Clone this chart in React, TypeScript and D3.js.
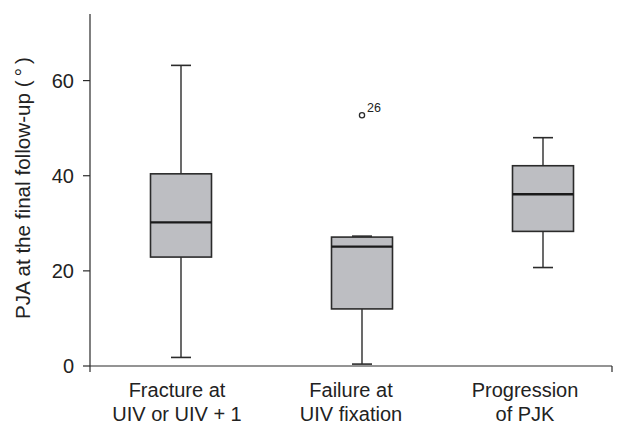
import React from "react";
import * as d3 from "d3";

const categories = ["Fracture at|UIV or UIV + 1", "Failure at|UIV fixation", "Progression|of PJK"];
const whiskerLow = [1.8, 0.4, 20.7];
const q1 = [22.9, 12.0, 28.3];
const median = [30.2, 25.1, 36.1];
const q3 = [40.4, 27.1, 42.1];
const whiskerHigh = [63.2, 27.3, 48.0];
const outliers = [{ group: 1, value: 52.7, label: "26" }];
const yTicks = [0, 20, 40, 60];

const W = 634;
const H = 424;
const left = 90;
const right = 612;
const top = 14;
const bottom = 366;

const App = () => {
    const y = d3.scaleLinear().domain([0, 74]).range([bottom, top]);
    // labels sit in equal bands along the axis
    const xLabel = d3.scaleBand().domain(categories).range([left, right]);
    // boxes are a little further right than the labels in the original
    const xBox = d3.scalePoint().domain(categories).range([181, 543]);
    const boxW = 61;
    const capW = 20;
    const ink = "#2b2b2b";
    const font = "'Liberation Sans', Arial, sans-serif";

    return (
        <svg width={W} height={H} style={{ position: "absolute", left: 0, top: 0, background: "#fff" }}>
            {/* y axis */}
            <line x1={left} x2={left} y1={top} y2={bottom + 6} stroke={ink} strokeWidth={1.2} />
            {yTicks.map((t) => (
                <g key={t}>
                    <line x1={left - 7} x2={left} y1={y(t)} y2={y(t)} stroke={ink} strokeWidth={1.2} />
                    <text x={left - 16} y={y(t)} textAnchor="end" dominantBaseline="central" fontSize="20px" fontFamily={font} fill="#222">
                        {t}
                    </text>
                </g>
            ))}
            <text
                transform={`translate(${30},${188}) rotate(-90)`}
                textAnchor="middle"
                fontSize="21px"
                fontFamily={font}
                fill="#222"
                textLength={262}
                lengthAdjust="spacingAndGlyphs"
            >
                PJA at the final follow-up (&#8201;°&#8201;)
            </text>

            {/* x axis */}
            <line x1={left} x2={right} y1={bottom} y2={bottom} stroke={ink} strokeWidth={1.2} />
            <line x1={right} x2={right} y1={bottom} y2={bottom + 6} stroke={ink} strokeWidth={1.2} />
            {categories.map((c) => {
                const [a, b] = c.split("|");
                const cx = xLabel(c)! + xLabel.bandwidth() / 2;
                return (
                    <text key={c} x={cx} y={397} textAnchor="middle" fontSize="20px" fontFamily={font} fill="#222">
                        <tspan x={cx} dy="0">{a}</tspan>
                        <tspan x={cx} dy="24">{b}</tspan>
                    </text>
                );
            })}

            {/* boxes */}
            {categories.map((c, i) => {
                const cx = xBox(c)!;
                return (
                    <g key={c}>
                        <line x1={cx} x2={cx} y1={y(whiskerHigh[i])} y2={y(q3[i])} stroke={ink} strokeWidth={1.4} />
                        <line x1={cx} x2={cx} y1={y(q1[i])} y2={y(whiskerLow[i])} stroke={ink} strokeWidth={1.4} />
                        <line x1={cx - capW / 2} x2={cx + capW / 2} y1={y(whiskerHigh[i])} y2={y(whiskerHigh[i])} stroke={ink} strokeWidth={1.6} />
                        <line x1={cx - capW / 2} x2={cx + capW / 2} y1={y(whiskerLow[i])} y2={y(whiskerLow[i])} stroke={ink} strokeWidth={1.6} />
                        <rect
                            x={cx - boxW / 2}
                            y={y(q3[i])}
                            width={boxW}
                            height={y(q1[i]) - y(q3[i])}
                            fill="#bdbec2"
                            stroke={ink}
                            strokeWidth={1.6}
                        />
                        <line x1={cx - boxW / 2} x2={cx + boxW / 2} y1={y(median[i])} y2={y(median[i])} stroke="#1a1a1a" strokeWidth={2.4} />
                    </g>
                );
            })}

            {/* outliers */}
            {outliers.map((o) => {
                const cx = xBox(categories[o.group])!;
                return (
                    <g key={o.label}>
                        <circle cx={cx} cy={y(o.value)} r={2.6} fill="#fff" stroke={ink} strokeWidth={1.3} />
                        <text x={cx + 5} y={y(o.value) - 3.5} fontSize="12.5px" fontFamily={font} fill="#222">
                            {o.label}
                        </text>
                    </g>
                );
            })}
        </svg>
    );
};

export default App;
